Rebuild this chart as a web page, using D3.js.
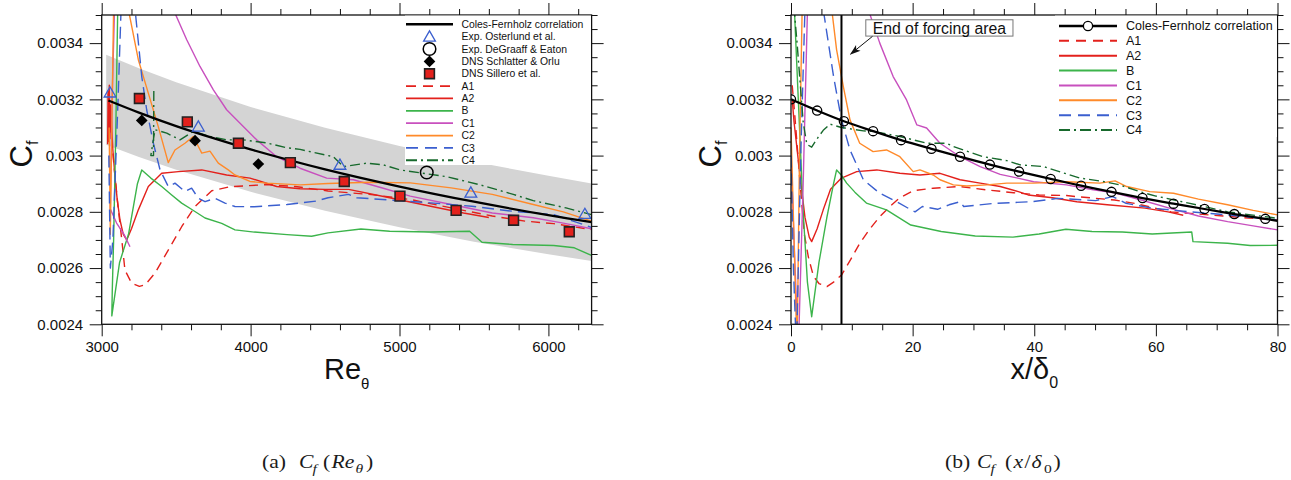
<!DOCTYPE html>
<html><head><meta charset="utf-8">
<script src="https://cdn.jsdelivr.net/npm/d3@7"></script>
<style>
html,body{margin:0;padding:0;background:#fff;}
svg{display:block;font-family:"Liberation Sans",Arial,Helvetica,sans-serif;}
text{white-space:pre;}
</style></head><body>
<svg id="chart" width="1291" height="480"></svg>
<script>
// ---------------- DATA ----------------
// Left panel: Cf vs Re_theta
const leftXTicks = [3000, 4000, 5000, 6000];
const leftXMinor = [3200,3400,3600,3800,4200,4400,4600,4800,5200,5400,5600,5800,6200];
const yTicks = [0.0024, 0.0026, 0.0028, 0.003, 0.0032, 0.0034];
const yTickLabels = ["0.0024", "0.0026", "0.0028", "0.003", "0.0032", "0.0034"];
const yMinor = [0.00245,0.0025,0.00255,0.00265,0.0027,0.00275,0.00285,0.0029,0.00295,0.00305,0.0031,0.00315,0.00325,0.0033,0.00335,0.00345,0.0035];
const rightXTicks = [0, 20, 40, 60, 80];
const rightXMinor = [5,10,15,25,30,35,45,50,55,65,70,75];

// Coles-Fernholz correlation (left) and +-5% band
const corrRe = [3045, 3250, 3500, 3750, 4000, 4500, 5000, 5500, 6000, 6290];
const corrCf = [0.003196, 0.003153, 0.003105, 0.003062, 0.003022, 0.002951, 0.002890, 0.002836, 0.002788, 0.002763];
const bandRe = [3030, 3250, 3500, 4000, 4500, 5000, 5500, 6000, 6290];
const bandUpper = [0.003359, 0.003311, 0.003261, 0.003173, 0.003099, 0.003034, 0.002978, 0.002928, 0.002901];
const bandLower = [0.003039, 0.002995, 0.002950, 0.002871, 0.002804, 0.002745, 0.002694, 0.002649, 0.002625];

// reference data (left)
const osterlundRe = [3056, 3649, 4600, 5479, 6245];
const osterlundCf = [0.003224, 0.003103, 0.002967, 0.002868, 0.002792];
const degraaffRe = [5183];
const degraaffCf = [0.00294];
const schlatterRe = [3269, 3627, 4052];
const schlatterCf = [0.003125, 0.003053, 0.00297];
const silleroRe = [3253, 3575, 3918, 4267, 4629, 5003, 5380, 5766, 6140];
const silleroCf = [0.003203, 0.00312, 0.003044, 0.002975, 0.002908, 0.002856, 0.002805, 0.00277, 0.002729];

// simulation runs (left): [Re_theta, Cf]
const leftA1 = [[3045,0.00322],[3060,0.0031],[3085,0.00295],[3112,0.002807],[3135,0.0027],[3156,0.002593],[3201,0.002546],[3253,0.002535],[3291,0.00254],[3358,0.002582],[3447,0.002664],[3537,0.002747],[3627,0.002819],[3739,0.002875],[3860,0.002889],[4107,0.002897],[4300,0.00289],[4520,0.002874],[4796,0.002862],[5072,0.002844],[5347,0.002814],[5623,0.002785],[5843,0.002767],[6036,0.002758],[6289,0.002737]];
const leftA2 = [[3040,0.00304],[3043,0.00323],[3047,0.00305],[3051,0.00325],[3055,0.00306],[3060,0.00318],[3075,0.00302],[3089,0.002925],[3105,0.00284],[3123,0.002771],[3145,0.00272],[3168,0.0027],[3200,0.00274],[3246,0.002807],[3313,0.00289],[3403,0.002937],[3515,0.002943],[3672,0.002949],[3839,0.002931],[3996,0.00292],[4175,0.00289],[4332,0.002882],[4500,0.00288],[4658,0.00288],[4934,0.00285],[5209,0.00282],[5430,0.002796],[5600,0.00278]];
const leftB = [[3110,0.0036],[3095,0.0031],[3080,0.0027],[3071,0.00252],[3068,0.00243],[3120,0.00262],[3180,0.00272],[3240,0.0029],[3269,0.002949],[3330,0.00292],[3403,0.00289],[3470,0.00286],[3537,0.002831],[3600,0.00281],[3694,0.002778],[3806,0.002759],[3895,0.002736],[4025,0.002728],[4245,0.002719],[4410,0.002713],[4520,0.002725],[4741,0.002739],[4934,0.002731],[5209,0.002728],[5471,0.002731],[5554,0.002692],[5760,0.002684],[6036,0.00268],[6174,0.002672],[6289,0.002645]];
const leftC1 = [[3190,0.002676],[3150,0.00272],[3100,0.00276],[3058,0.00281],[3070,0.0032],[3090,0.0036],[3300,0.0041],[3481,0.00352],[3571,0.003412],[3660,0.003317],[3750,0.003234],[3839,0.003163],[3929,0.003115],[4041,0.003056],[4175,0.002996],[4332,0.002955],[4511,0.00292],[4690,0.002914],[4891,0.002884],[5072,0.002856],[5347,0.002826],[5623,0.002796],[5898,0.002779],[6100,0.00276],[6289,0.00274]];
const leftC2 = [[3050,0.0031],[3058,0.00272],[3068,0.0031],[3085,0.0037],[3140,0.0041],[3179,0.00352],[3246,0.003341],[3313,0.003222],[3380,0.003103],[3447,0.002975],[3492,0.00302],[3559,0.003044],[3615,0.003068],[3672,0.003009],[3727,0.003016],[3783,0.002973],[3850,0.002949],[3895,0.002931],[3996,0.002908],[4108,0.002902],[4332,0.002896],[4520,0.002901],[4796,0.002905],[5072,0.002903],[5347,0.002885],[5623,0.002862],[5898,0.002826],[6100,0.0028],[6289,0.002767]];
const leftC3 = [[3048,0.003],[3058,0.0026],[3075,0.0027],[3110,0.0032],[3135,0.0036],[3180,0.004],[3224,0.00352],[3269,0.003281],[3302,0.003163],[3347,0.003044],[3392,0.002949],[3447,0.00289],[3492,0.002902],[3559,0.002872],[3604,0.002884],[3649,0.002848],[3694,0.002836],[3761,0.002848],[3828,0.002831],[3895,0.002819],[4025,0.002818],[4245,0.002826],[4438,0.002838],[4520,0.00285],[4658,0.002862],[4713,0.00285],[4934,0.002842],[5209,0.002832],[5485,0.00282],[5760,0.002802],[6036,0.00279],[6289,0.002745]];
const leftC4 = [[3350,0.00323],[3348,0.003],[3330,0.003],[3358,0.003092],[3437,0.00308],[3526,0.003056],[3615,0.003086],[3727,0.003068],[3839,0.003056],[3951,0.003056],[4108,0.003045],[4242,0.003028],[4332,0.003022],[4555,0.002996],[4623,0.002961],[4780,0.002973],[4891,0.002967],[5003,0.002949],[5317,0.002925],[5541,0.002896],[5764,0.002862],[5898,0.00284],[6118,0.002814],[6289,0.00279]];

// Right panel: Cf vs x/delta0
const corrX = [0, 4.3, 8.7, 13.5, 18.1, 23.1, 27.8, 32.7, 37.5, 42.7, 47.7, 52.7, 57.8, 62.9, 68, 72.9, 78];
const corrXCf = [0.0032, 0.00316, 0.003122, 0.003087, 0.003055, 0.003024, 0.002996, 0.002968, 0.002943, 0.002917, 0.002893, 0.002871, 0.002849, 0.002829, 0.00281, 0.002792, 0.002775];
const corrLineEnd = [80, 0.002768];
const forcingEnd = 8.3;

const rightA1 = [[0.2,0.00325],[0.6,0.00315],[1.5,0.0029],[2.2,0.00272],[2.85,0.00264],[3.7,0.00257],[4.6,0.002545],[5.9,0.002534],[7,0.00255],[8.3,0.002575],[9.8,0.00263],[11.3,0.002688],[13,0.00274],[14.6,0.002783],[16.3,0.00282],[17.9,0.00285],[20.1,0.002875],[23.4,0.002884],[27.8,0.00289],[32.2,0.002878],[36.6,0.002868],[40.8,0.00286],[45.3,0.002858],[47,0.002854],[53.2,0.002842],[56.5,0.00283],[62.5,0.0028],[68.7,0.002789],[74,0.00278],[80,0.002771]];
const rightA2 = [[0.2,0.0032],[0.5,0.00312],[1.5,0.002925],[2.3,0.00278],[3,0.00271],[3.4,0.002694],[4.3,0.00274],[5.3,0.002807],[6.5,0.00288],[8.3,0.00292],[10.8,0.002943],[14.1,0.002949],[17.9,0.002937],[21.2,0.002931],[24.5,0.002937],[27.8,0.002914],[31.1,0.002902],[34.4,0.00289],[37.4,0.002872],[39,0.00286],[43,0.00285],[47,0.002836],[52,0.002825],[58.2,0.002813],[62,0.0028],[64.5,0.002788]];
const rightB = [[0.4,0.0036],[1.2,0.0032],[2,0.0028],[2.7,0.00255],[3.4,0.002427],[4.6,0.00262],[5.9,0.00278],[7,0.0029],[7.5,0.002949],[8.3,0.00293],[9.15,0.002902],[10.5,0.00287],[12.4,0.002831],[15.7,0.002807],[19.7,0.002753],[24.7,0.00273],[30.3,0.002714],[36.5,0.00271],[40.8,0.002721],[45.2,0.002738],[49.5,0.00273],[54.5,0.002728],[59.4,0.002721],[65.9,0.002728],[66.1,0.002694],[71.8,0.002688],[75.5,0.00268],[80,0.002681]];
const rightC1 = [[0,0.003],[0.5,0.0027],[1.2,0.0023],[2,0.0029],[2.8,0.0036],[7.5,0.0042],[12.7,0.00352],[14.6,0.0034],[16.8,0.003281],[19,0.003198],[20.7,0.003109],[22.3,0.003098],[24.5,0.003044],[27.8,0.002996],[31.1,0.002961],[34.4,0.002933],[37.3,0.00292],[39.9,0.002907],[45.3,0.002896],[49.7,0.002878],[53.2,0.002868],[57.6,0.002842],[63.2,0.002807],[67,0.002785],[71.8,0.002765],[76,0.00275],[80,0.002736]];
const rightC2 = [[0,0.0031],[0.5,0.0027],[1,0.0023],[1.4,0.003],[1.9,0.0036],[4,0.0041],[6.7,0.00352],[7.5,0.003376],[8.6,0.003246],[9.7,0.003127],[11.3,0.003044],[13.5,0.003014],[15.7,0.00302],[17.9,0.002996],[20.1,0.002943],[21.2,0.002949],[23.4,0.002931],[24.5,0.002914],[26.7,0.002896],[28.9,0.002892],[32.2,0.002896],[35.5,0.002902],[39.9,0.002902],[45.3,0.002907],[50.8,0.002902],[53.3,0.00291],[55.2,0.00289],[59,0.002872],[62.9,0.002866],[67,0.002845],[71.8,0.002825],[76,0.002805],[80,0.002789]];
const rightC3 = [[0,0.003],[0.4,0.0026],[0.9,0.0023],[1.6,0.003],[2.4,0.0036],[4,0.0039],[5.3,0.00352],[7,0.003281],[8.3,0.003127],[9.7,0.00302],[11.9,0.002914],[14.6,0.002866],[17.4,0.002836],[19.5,0.00281],[20.4,0.0028],[21.6,0.002819],[24.1,0.002809],[26,0.002825],[27.8,0.002836],[28.4,0.002819],[33.4,0.00283],[39.6,0.002836],[43.9,0.002848],[50.1,0.00284],[52.9,0.002854],[55.1,0.00283],[59.4,0.002813],[65.6,0.0028],[71.8,0.002789],[80,0.002771]];
const rightC4 = [[0.2,0.0036],[1,0.0034],[2,0.00312],[2.6,0.00304],[3.4,0.00303],[4.3,0.00306],[5.3,0.00309],[6.4,0.003112],[8.3,0.0031],[11.9,0.003088],[13.5,0.003086],[17.9,0.003068],[22.3,0.003044],[25.6,0.003044],[26.7,0.003032],[31.6,0.002996],[35.5,0.002982],[37.7,0.002967],[41.5,0.002961],[47.5,0.00292],[51.3,0.002908],[54,0.002896],[57.3,0.002872],[60,0.002856],[65.6,0.00283],[71.8,0.0028],[80,0.002777]];

const runNames = ["A1", "A2", "B", "C1", "C2", "C3", "C4"];
const leftLegendLabels = ["Coles-Fernholz correlation", "Exp. Osterlund et al.", "Exp. DeGraaff & Eaton", "DNS Schlatter & Orlu", "DNS Sillero et al."];
const rightLegendLabels = ["Coles-Fernholz correlation"];
const annotationText = "End of forcing area";

// ---------------- STYLE / LAYOUT ----------------
const STYLE = {
  A1: {color: "#e3211c", dash: "9,6", legDash: "10,7"},
  A2: {color: "#e3211c", dash: null, legDash: null},
  B:  {color: "#3cb44b", dash: null, legDash: null},
  C1: {color: "#c850be", dash: null, legDash: null},
  C2: {color: "#ff8a2a", dash: null, legDash: null},
  C3: {color: "#3b5fcf", dash: "12,6", legDash: "12,7"},
  C4: {color: "#17692c", dash: "10,4,2,4", legDash: "11,4,2,4"}
};
const leftRuns = {A1: leftA1, A2: leftA2, B: leftB, C1: leftC1, C2: leftC2, C3: leftC3, C4: leftC4};
const rightRuns = {A1: rightA1, A2: rightA2, B: rightB, C1: rightC1, C2: rightC2, C3: rightC3, C4: rightC4};

const svg = d3.select("#chart");
const defs = svg.append("defs");

const yDomain = [0.0024, 0.0035];
const yRange = [324.3, 15];
const xL = d3.scaleLinear().domain([3000, 6290]).range([101.7, 591.6]);
const yL = d3.scaleLinear().domain(yDomain).range(yRange);
const xR = d3.scaleLinear().domain([0, 80]).range([791, 1277.5]);
const yR = d3.scaleLinear().domain(yDomain).range(yRange);

function clip(id, x, y) {
  defs.append("clipPath").attr("id", id).append("rect")
    .attr("x", x.range()[0]).attr("y", y.range()[1])
    .attr("width", x.range()[1] - x.range()[0]).attr("height", y.range()[0] - y.range()[1]);
}
clip("clipL", xL, yL);
clip("clipR", xR, yR);

defs.append("marker").attr("id", "arrow").attr("viewBox", "0 0 12 10")
  .attr("refX", 11).attr("refY", 5).attr("markerWidth", 11).attr("markerHeight", 9)
  .attr("markerUnits", "userSpaceOnUse").attr("orient", "auto")
  .append("path").attr("d", "M0,1 L12,5 L0,9 L3,5 Z").attr("fill", "#111");

function axes(g, x, y, xt, xm, yt, ym) {
  const [x0, x1] = x.range();
  const [y0, y1] = y.range();
  const fmt = d => yTickLabels[yTicks.indexOf(d)];
  const style = sel => {
    sel.select(".domain").remove();
    sel.selectAll("line").attr("stroke", "#111").attr("stroke-width", 1);
    sel.selectAll("text").attr("font-size", 15).attr("fill", "#111");
  };
  g.append("g").attr("transform", `translate(0,${y0})`)
    .call(d3.axisBottom(x).tickValues(xt).tickSize(12).tickPadding(5).tickFormat(d3.format("d"))).call(style);
  g.append("g").attr("transform", `translate(0,${y0})`)
    .call(d3.axisBottom(x).tickValues(xm).tickSize(6).tickFormat("")).call(style);
  g.append("g").attr("transform", `translate(0,${y1})`)
    .call(d3.axisTop(x).tickValues(xt).tickSize(12).tickFormat("")).call(style);
  g.append("g").attr("transform", `translate(0,${y1})`)
    .call(d3.axisTop(x).tickValues(xm).tickSize(6).tickFormat("")).call(style);
  g.append("g").attr("transform", `translate(${x0},0)`)
    .call(d3.axisLeft(y).tickValues(yt).tickSize(12).tickPadding(6.5).tickFormat(fmt)).call(style);
  g.append("g").attr("transform", `translate(${x0},0)`)
    .call(d3.axisLeft(y).tickValues(ym).tickSize(6).tickFormat("")).call(style);
  g.append("g").attr("transform", `translate(${x1},0)`)
    .call(d3.axisRight(y).tickValues(yt).tickSize(12).tickFormat("")).call(style);
  g.append("g").attr("transform", `translate(${x1},0)`)
    .call(d3.axisRight(y).tickValues(ym).tickSize(6).tickFormat("")).call(style);
  g.append("rect").attr("x", x0).attr("y", y1).attr("width", x1 - x0).attr("height", y0 - y1)
    .attr("fill", "none").attr("stroke", "#111").attr("stroke-width", 1.3);
}

function drawRuns(g, runs, x, y) {
  const line = d3.line().x(d => x(d[0])).y(d => y(d[1]));
  runNames.forEach(n => {
    const s = STYLE[n];
    g.append("path").datum(runs[n]).attr("d", line)
      .attr("fill", "none").attr("stroke", s.color).attr("stroke-width", 1.4)
      .attr("stroke-linejoin", "round")
      .attr("stroke-dasharray", s.dash);
  });
}

const sym = (type, size) => d3.symbol().type(type).size(size)();

// ================= LEFT PANEL =================
const gL = svg.append("g");
const plotL = gL.append("g").attr("clip-path", "url(#clipL)");
const bandData = bandRe.map((r, i) => [r, bandLower[i], bandUpper[i]]);
plotL.append("path").datum(bandData)
  .attr("d", d3.area().x(d => xL(d[0])).y0(d => yL(d[1])).y1(d => yL(d[2])))
  .attr("fill", "#d4d4d4");
drawRuns(plotL, leftRuns, xL, yL);
plotL.append("path").datum(corrRe.map((r, i) => [r, corrCf[i]]))
  .attr("d", d3.line().curve(d3.curveCatmullRom).x(d => xL(d[0])).y(d => yL(d[1])))
  .attr("fill", "none").attr("stroke", "#000").attr("stroke-width", 2.3);

// markers
const mk = gL.append("g");
osterlundRe.forEach((r, i) => mk.append("path").attr("d", sym(d3.symbolTriangle, 60))
  .attr("transform", `translate(${xL(r)},${yL(osterlundCf[i]) + 1})`)
  .attr("fill", "none").attr("stroke", "#3b5fcf").attr("stroke-width", 1.3));
degraaffRe.forEach((r, i) => mk.append("circle").attr("cx", xL(r)).attr("cy", yL(degraaffCf[i])).attr("r", 6.3)
  .attr("fill", "none").attr("stroke", "#000").attr("stroke-width", 1.5));
schlatterRe.forEach((r, i) => mk.append("path").attr("d", sym(d3.symbolSquare, 68))
  .attr("transform", `translate(${xL(r)},${yL(schlatterCf[i])}) rotate(45)`).attr("fill", "#000"));
silleroRe.forEach((r, i) => mk.append("path").attr("d", sym(d3.symbolSquare, 95))
  .attr("transform", `translate(${xL(r)},${yL(silleroCf[i])})`)
  .attr("fill", "#e3211c").attr("stroke", "#222").attr("stroke-width", 1.6));

axes(gL, xL, yL, leftXTicks, leftXMinor, yTicks, yMinor);

// left legend
const legL = gL.append("g");
legL.append("rect").attr("x", 405).attr("y", 15.6).attr("width", xL.range()[1] - 405 - 0.6).attr("height", 149.4).attr("fill", "#fff");
const lRow = i => 24.3 + i * 12.36;
const lx0 = 406, lx1 = 453, ltx = 461.5, lmx = (lx0 + lx1) / 2;
const leftLegendAll = leftLegendLabels.concat(runNames);
leftLegendAll.forEach((lab, i) => {
  legL.append("text").attr("x", ltx).attr("y", lRow(i)).attr("dy", "0.35em")
    .attr("font-size", 10.4).attr("fill", "#111").text(lab);
});
legL.append("line").attr("x1", lx0).attr("x2", lx1).attr("y1", lRow(0)).attr("y2", lRow(0)).attr("stroke", "#000").attr("stroke-width", 2.4);
legL.append("path").attr("d", sym(d3.symbolTriangle, 60)).attr("transform", `translate(${lmx},${lRow(1) + 1})`)
  .attr("fill", "none").attr("stroke", "#3b5fcf").attr("stroke-width", 1.3);
legL.append("circle").attr("cx", lmx).attr("cy", lRow(2)).attr("r", 6.3).attr("fill", "none").attr("stroke", "#000").attr("stroke-width", 1.5);
legL.append("path").attr("d", sym(d3.symbolSquare, 68)).attr("transform", `translate(${lmx},${lRow(3)}) rotate(45)`).attr("fill", "#000");
legL.append("path").attr("d", sym(d3.symbolSquare, 95)).attr("transform", `translate(${lmx},${lRow(4)})`)
  .attr("fill", "#e3211c").attr("stroke", "#222").attr("stroke-width", 1.6);
runNames.forEach((n, j) => {
  const i = j + 5;
  legL.append("line").attr("x1", lx0).attr("x2", lx1).attr("y1", lRow(i)).attr("y2", lRow(i))
    .attr("stroke", STYLE[n].color).attr("stroke-width", 1.8).attr("stroke-dasharray", STYLE[n].legDash);
});

// ================= RIGHT PANEL =================
const gR = svg.append("g");
const plotR = gR.append("g").attr("clip-path", "url(#clipR)");
drawRuns(plotR, rightRuns, xR, yR);
const corrPts = corrX.map((x, i) => [x, corrXCf[i]]);
plotR.append("path").datum(corrPts.concat([corrLineEnd]))
  .attr("d", d3.line().curve(d3.curveCatmullRom).x(d => xR(d[0])).y(d => yR(d[1])))
  .attr("fill", "none").attr("stroke", "#000").attr("stroke-width", 2.2);
plotR.selectAll("circle.c").data(corrPts).join("circle").attr("class", "c")
  .attr("cx", d => xR(d[0])).attr("cy", d => yR(d[1])).attr("r", 4.6)
  .attr("fill", "none").attr("stroke", "#000").attr("stroke-width", 1.3);
plotR.append("line").attr("x1", xR(forcingEnd)).attr("x2", xR(forcingEnd))
  .attr("y1", yR.range()[0]).attr("y2", yR.range()[1]).attr("stroke", "#000").attr("stroke-width", 2);

axes(gR, xR, yR, rightXTicks, rightXMinor, yTicks, yMinor);

// annotation
const annBox = {x0: 12.3, x1: 36.5, top: 0.003483, bot: 0.003425};
gR.append("rect").attr("x", xR(annBox.x0)).attr("y", yR(annBox.top))
  .attr("width", xR(annBox.x1) - xR(annBox.x0)).attr("height", yR(annBox.bot) - yR(annBox.top))
  .attr("fill", "#fff").attr("stroke", "#777").attr("stroke-width", 1);
gR.append("text").attr("x", (xR(annBox.x0) + xR(annBox.x1)) / 2).attr("y", (yR(annBox.top) + yR(annBox.bot)) / 2)
  .attr("dy", "0.36em").attr("text-anchor", "middle").attr("font-size", 15.8).attr("fill", "#111").text(annotationText);
gR.append("line").attr("x1", xR(13.4)).attr("y1", yR(0.003424)).attr("x2", xR(9.8)).attr("y2", yR(0.003361))
  .attr("stroke", "#111").attr("stroke-width", 1).attr("marker-end", "url(#arrow)");

// right legend
const legR = gR.append("g");
legR.append("rect").attr("x", 1055).attr("y", 15.6).attr("width", xR.range()[1] - 1055 - 0.6).attr("height", 121.4).attr("fill", "#fff");
const rRow = i => 26 + i * 14.86;
const rx0 = 1059, rx1 = 1117, rtx = 1126;
rightLegendLabels.concat(runNames).forEach((lab, i) => {
  legR.append("text").attr("x", rtx).attr("y", rRow(i)).attr("dy", "0.35em")
    .attr("font-size", 12.5).attr("fill", "#111").text(lab);
});
legR.append("line").attr("x1", rx0).attr("x2", rx1).attr("y1", rRow(0)).attr("y2", rRow(0)).attr("stroke", "#000").attr("stroke-width", 2.4);
legR.append("circle").attr("cx", (rx0 + rx1) / 2).attr("cy", rRow(0)).attr("r", 4.6).attr("fill", "#fff").attr("stroke", "#000").attr("stroke-width", 1.3);
runNames.forEach((n, j) => {
  const i = j + 1;
  legR.append("line").attr("x1", rx0).attr("x2", rx1).attr("y1", rRow(i)).attr("y2", rRow(i))
    .attr("stroke", STYLE[n].color).attr("stroke-width", 2).attr("stroke-dasharray", STYLE[n].legDash);
});

// ================= AXIS TITLES =================
function yTitle(xpos, ypos) {
  const t = svg.append("text").attr("transform", `translate(${xpos},${ypos}) rotate(-90)`)
    .attr("text-anchor", "middle").attr("font-size", 31).attr("fill", "#111");
  t.append("tspan").text("C");
  t.append("tspan").attr("font-size", 16).attr("dy", 6).text("f");
}
yTitle(31.5, 154);
yTitle(721, 154);

const xtL = svg.append("text").attr("x", (xL.range()[0] + xL.range()[1]) / 2).attr("y", 379.3)
  .attr("text-anchor", "middle").attr("font-size", 29).attr("fill", "#111");
xtL.append("tspan").text("Re");
xtL.append("tspan").attr("font-size", 15).attr("dy", 10).text("θ");

const xtR = svg.append("text").attr("x", (xR.range()[0] + xR.range()[1]) / 2).attr("y", 379.3)
  .attr("text-anchor", "middle").attr("font-size", 29).attr("fill", "#111");
xtR.append("tspan").text("x/δ");
xtR.append("tspan").attr("font-size", 16).attr("dy", 9).text("0");

// ================= CAPTIONS =================
// each piece: text, target x position, italic, subscript; glyphs widened 1.2x like the reference
const CAP_SX = 1.2;
function caption(pieces) {
  const t = svg.append("text").attr("transform", `translate(0,468.3) scale(${CAP_SX},1)`).attr("y", 0)
    .attr("font-family", "'Liberation Serif','Times New Roman',serif").attr("font-size", 18).attr("fill", "#1a1a1a");
  let base = 0;
  pieces.forEach(p => {
    const s = t.append("tspan").attr("x", p.x / CAP_SX).text(p.t);
    const shift = p.sub ? 4.5 : 0;
    s.attr("dy", shift - base);
    base = shift;
    if (p.i) s.attr("font-style", "italic");
    if (p.sub) s.attr("font-size", 13);
  });
}
caption([{t: "(a)", x: 262}, {t: "C", x: 299, i: 1}, {t: "f", x: 312.5, i: 1, sub: 1}, {t: "(", x: 323},
         {t: "Re", x: 331.5, i: 1}, {t: "θ", x: 355.5, i: 1, sub: 1}, {t: ")", x: 366}]);
caption([{t: "(b)", x: 945}, {t: "C", x: 977, i: 1}, {t: "f", x: 990.5, i: 1, sub: 1}, {t: "(", x: 1005},
         {t: "x", x: 1013.5, i: 1}, {t: "/", x: 1024.5}, {t: "δ", x: 1031.5, i: 1}, {t: "0", x: 1044, sub: 1}, {t: ")", x: 1053.5}]);
</script></body></html>
